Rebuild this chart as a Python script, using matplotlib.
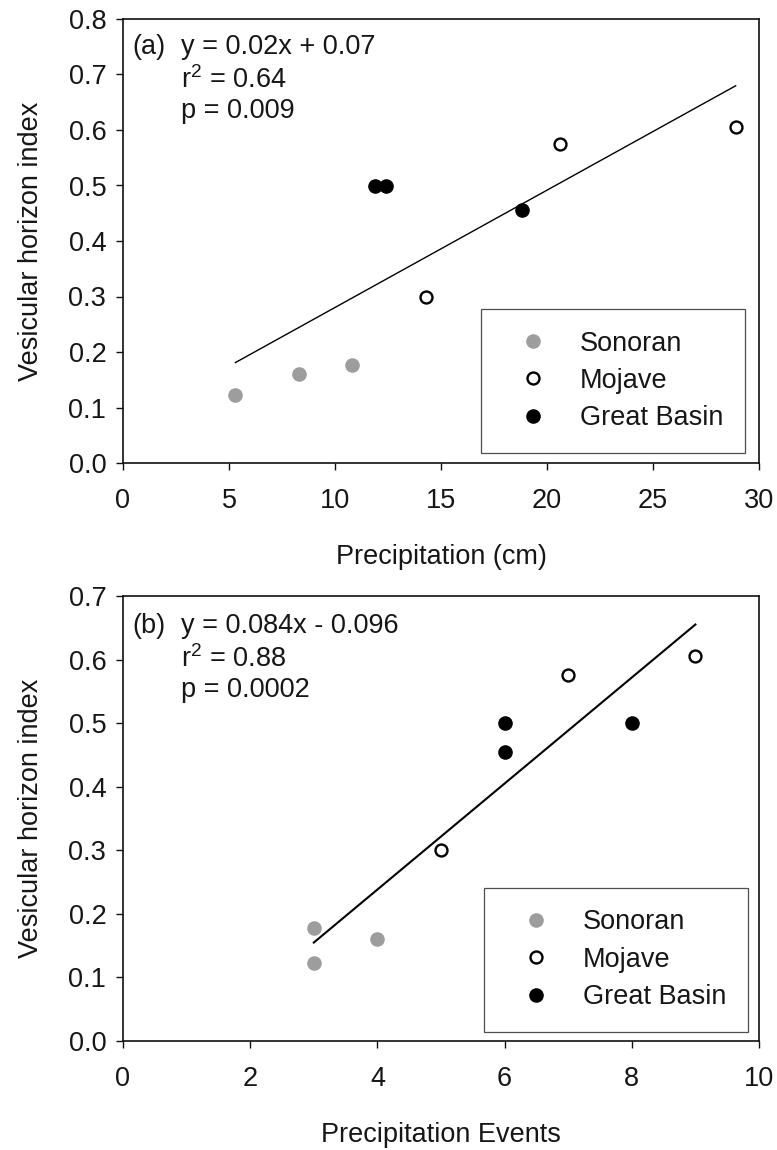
import numpy as np
import matplotlib
matplotlib.use("Agg")
import matplotlib.pyplot as plt
from matplotlib.ticker import FormatStrFormatter, MultipleLocator

plt.rcParams['font.family'] = ['Liberation Sans', 'DejaVu Sans']
plt.rcParams['mathtext.default'] = 'regular'
plt.rcParams['font.size'] = 19.5

# ---- data ----
regions = ["Sonoran", "Mojave", "Great Basin"]

# Precipitation (cm) per site, grouped by region
precip_sonoran = [5.3, 8.3, 10.8]
precip_mojave = [14.3, 20.6, 28.9]
precip_basin = [11.9, 12.4, 18.8]

# Number of precipitation events per site
events_sonoran = [3, 3, 4]
events_mojave = [5, 7, 9]
events_basin = [6, 6, 8]

# Vesicular horizon index for panel (a), same site order as precip_*
vhi_a_sonoran = [0.123, 0.160, 0.177]
vhi_a_mojave = [0.300, 0.575, 0.605]
vhi_a_basin = [0.500, 0.500, 0.455]

# Vesicular horizon index for panel (b), same site order as events_*
vhi_b_sonoran = [0.177, 0.123, 0.160]
vhi_b_mojave = [0.300, 0.575, 0.605]
vhi_b_basin = [0.500, 0.455, 0.500]

stats_a = ["y = 0.02x + 0.07", "r$^2$ = 0.64", "p = 0.009"]
stats_b = ["y = 0.084x - 0.096", "r$^2$ = 0.88", "p = 0.0002"]

xticks_a = [0, 5, 10, 15, 20, 25, 30]
xticks_b = [0, 2, 4, 6, 8, 10]

# ---- styling ----
TEXT = "#161616"
GREY = "#9d9d9d"
styles = {
    "Sonoran": dict(marker="o", ms=10.5, mfc=GREY, mec=GREY, mew=0, ls="none"),
    "Mojave": dict(marker="o", ms=8.6, mfc="white", mec="black", mew=1.7, ls="none"),
    "Great Basin": dict(marker="o", ms=10.5, mfc="black", mec="black", mew=0, ls="none"),
}

W, H = 777, 1150
fig = plt.figure(figsize=(W / 100, H / 100), dpi=100)


def px_axes(left, top, right, bottom):
    return fig.add_axes([left / W, 1 - bottom / H, (right - left) / W, (bottom - top) / H])


ax_a = px_axes(123, 19, 759, 463)
ax_b = px_axes(123, 596, 759, 1041)


def draw_panel(ax, xs, ys, tag, stats, xlim, ylim, xticks, xlabel, fit_lw, stat_offsets, legend_box):
    for name, x, y in zip(regions, xs, ys):
        ax.plot(x, y, label=name, zorder=3, **styles[name])

    # least-squares fit over all sites, drawn across the observed x range
    allx = np.concatenate([np.asarray(v, float) for v in xs])
    ally = np.concatenate([np.asarray(v, float) for v in ys])
    slope, intercept = np.polyfit(allx, ally, 1)
    fx = np.array([allx.min(), allx.max()])
    ax.plot(fx, slope * fx + intercept, color="black", lw=fit_lw, zorder=2)

    ax.set_xlim(*xlim)
    ax.set_ylim(*ylim)
    ax.set_xticks(xticks)
    ax.yaxis.set_major_locator(MultipleLocator(0.1))
    ax.yaxis.set_major_formatter(FormatStrFormatter("%.1f"))

    for s in ax.spines.values():
        s.set_linewidth(1.2)
        s.set_color("#111111")
    ax.tick_params(direction="out", length=5, width=1.0, colors="#111111",
                   labelcolor=TEXT, labelsize=19.5)
    ax.tick_params(axis="x", pad=13)
    ax.tick_params(axis="y", pad=7)

    ax.set_xlabel(xlabel, color=TEXT)
    ax.xaxis.label.set_va("baseline")
    ax.xaxis.set_label_coords(0.5, stat_offsets["xlabel"])
    ax.set_ylabel("Vesicular horizon index", color=TEXT)
    ax.yaxis.label.set_va("center")
    ax.yaxis.set_label_coords(-0.145, 0.5)

    # panel tag and regression statistics
    ax.text(0.0146, stat_offsets["lines"][0], tag, transform=ax.transAxes,
            va="baseline", ha="left", color=TEXT)
    for line, yy in zip(stats, stat_offsets["lines"]):
        ax.text(0.0905, yy, line, transform=ax.transAxes,
                va="baseline", ha="left", color=TEXT)

    leg = ax.legend(loc="lower left", bbox_to_anchor=legend_box, borderaxespad=0,
                    frameon=True, fancybox=False, edgecolor="#222222",
                    borderpad=0.8, labelspacing=0.42, handlelength=2.2,
                    handletextpad=0.64, numpoints=1, fontsize=19.5)
    leg.get_frame().set_linewidth(0.9)
    for t in leg.get_texts():
        t.set_color(TEXT)


draw_panel(ax_a,
           [precip_sonoran, precip_mojave, precip_basin],
           [vhi_a_sonoran, vhi_a_mojave, vhi_a_basin],
           "(a)", stats_a, (0, 30), (0, 0.8), xticks_a, "Precipitation (cm)", 1.0,
           {"lines": [0.921, 0.844, 0.776], "xlabel": -0.2275},
           (0.563, 0.0226))

draw_panel(ax_b,
           [events_sonoran, events_mojave, events_basin],
           [vhi_b_sonoran, vhi_b_mojave, vhi_b_basin],
           "(b)", stats_b, (0, 10), (0, 0.7), xticks_b, "Precipitation Events", 1.5,
           {"lines": [0.916, 0.840, 0.773], "xlabel": -0.227},
           (0.568, 0.021))

fig.savefig("out.png", dpi=100)
